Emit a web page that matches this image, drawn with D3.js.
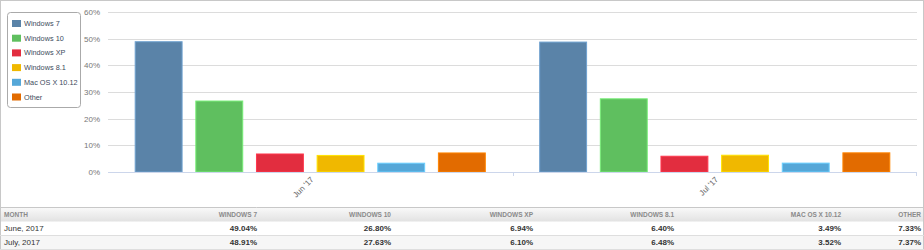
<!DOCTYPE html>
<html>
<head>
<meta charset="utf-8">
<script src="https://cdn.jsdelivr.net/npm/d3@7/dist/d3.min.js"></script>
<style>
  html, body { margin: 0; padding: 0; background: #fff; }
  svg { display: block; font-family: Arial, "Liberation Sans", sans-serif; }
</style>
</head>
<body>
<svg id="chart" width="924" height="250"></svg>
<script>
// Données
const months = ["Jun '17", "Jul '17"];
const monthNames = ["June, 2017", "July, 2017"];
const systems = ["Windows 7", "Windows 10", "Windows XP", "Windows 8.1", "Mac OS X 10.12", "Other"];
const colors = ["#5a83a8", "#5fbf5f", "#e22d3f", "#f0b800", "#55a7d8", "#e26b00"];
const june = [49.04, 26.80, 6.94, 6.40, 3.49, 7.33];
const july = [48.91, 27.63, 6.10, 6.48, 3.52, 7.37];
const yTicks = [0, 10, 20, 30, 40, 50, 60];

const series = [june, july];

const svg = d3.select("#chart");
const W = 924, H = 250;
const plot = { left: 108, right: 917, top: 12, bottom: 172 };

// Cadre extérieur
svg.append("rect")
  .attr("x", 0.5).attr("y", 0.5)
  .attr("width", W - 1).attr("height", H - 1)
  .attr("fill", "none").attr("stroke", "#c8c8c8");

const y = d3.scaleLinear().domain([0, 60]).range([plot.bottom, plot.top]);

const x0 = d3.scaleBand().domain(months).range([plot.left, plot.right]).padding(0);
const x1 = d3.scaleBand().domain(systems).range([0, x0.bandwidth()])
  .paddingInner(0.21).paddingOuter(0.44);

// Grille
svg.append("g")
  .selectAll("line")
  .data(yTicks.filter(d => d > 0))
  .join("line")
  .attr("x1", plot.left).attr("x2", plot.right)
  .attr("y1", d => Math.round(y(d)) + 0.5).attr("y2", d => Math.round(y(d)) + 0.5)
  .attr("stroke", "#dcdcdc");

// Axe Y
svg.append("g")
  .attr("transform", `translate(${plot.left - 5},0)`)
  .call(d3.axisLeft(y).tickValues(yTicks).tickSize(0).tickFormat(d => d + "%"))
  .call(g => g.select(".domain").remove())
  .selectAll("text")
  .attr("fill", "#777")
  .style("font-size", "8px")
  .style("font-family", "Arial, 'Liberation Sans', sans-serif");

// Barres
const groups = svg.append("g")
  .selectAll("g")
  .data(months)
  .join("g")
  .attr("transform", d => `translate(${x0(d)},0)`);

groups.selectAll("rect")
  .data((m, i) => series[i].map((v, j) => ({ sys: systems[j], value: v, color: colors[j] })))
  .join("rect")
  .attr("x", d => x1(d.sys) + 0.5)
  .attr("y", d => y(d.value) + 0.5)
  .attr("width", x1.bandwidth() - 1)
  .attr("height", d => y(0) - y(d.value) - 0.5)
  .attr("fill", d => d.color)
  .attr("stroke", d => d3.color(d.color).brighter(0.6))
  .attr("stroke-width", 1);

// Axe X
svg.append("line")
  .attr("x1", plot.left).attr("x2", plot.right)
  .attr("y1", plot.bottom + 0.5).attr("y2", plot.bottom + 0.5)
  .attr("stroke", "#ccd6eb");

svg.append("g")
  .selectAll("line")
  .data(months.slice(1))
  .join("line")
  .attr("x1", d => Math.round(x0(d)) + 0.5).attr("x2", d => Math.round(x0(d)) + 0.5)
  .attr("y1", plot.bottom).attr("y2", plot.bottom + 4)
  .attr("stroke", "#ccd6eb");

svg.append("line")
  .attr("x1", plot.right - 0.5).attr("x2", plot.right - 0.5)
  .attr("y1", plot.bottom).attr("y2", plot.bottom + 4)
  .attr("stroke", "#ccd6eb");

svg.append("g")
  .selectAll("text")
  .data(months)
  .join("text")
  .attr("transform", d => `translate(${x0(d) + x0.bandwidth() / 2 + 2},${plot.bottom + 6}) rotate(-45)`)
  .attr("text-anchor", "end")
  .attr("dy", "0.35em")
  .attr("fill", "#666")
  .style("font-size", "8px")
  .text(d => d);

// Légende
const legend = svg.append("g");
legend.append("rect")
  .attr("x", 7.5).attr("y", 12.5)
  .attr("width", 73).attr("height", 95)
  .attr("rx", 3)
  .attr("fill", "#fff")
  .attr("stroke", "#aaa");

const li = legend.selectAll("g")
  .data(systems)
  .join("g")
  .attr("transform", (d, i) => `translate(12,${20 + i * 14.7})`);

li.append("rect")
  .attr("width", 9).attr("height", 7)
  .attr("fill", (d, i) => colors[i]);

li.append("text")
  .attr("x", 12).attr("y", 3.5)
  .attr("dy", "0.35em")
  .attr("fill", "#3d4b5c")
  .style("font-size", "7.3px")
  .text(d => d);

// Tableau
const colRight = [257, 391, 533, 674, 841, 921];
const tTop = 207;
const headH = 14.5, rowH = 14;

const defs = svg.append("defs");
const grad = defs.append("linearGradient").attr("id", "hdr").attr("x1", 0).attr("x2", 0).attr("y1", 0).attr("y2", 1);
grad.append("stop").attr("offset", "0%").attr("stop-color", "#fafafa");
grad.append("stop").attr("offset", "100%").attr("stop-color", "#e2e2e2");

const table = svg.append("g");
table.append("rect")
  .attr("x", 1).attr("y", tTop)
  .attr("width", W - 2).attr("height", headH)
  .attr("fill", "url(#hdr)");
table.append("line")
  .attr("x1", 0).attr("x2", W)
  .attr("y1", tTop + 0.5).attr("y2", tTop + 0.5)
  .attr("stroke", "#c8c8c8");

table.append("rect")
  .attr("x", 1).attr("y", tTop + headH + rowH)
  .attr("width", W - 2).attr("height", rowH)
  .attr("fill", "#f6f6f6");

[tTop + headH + rowH, tTop + headH + 2 * rowH].forEach(yy => {
  table.append("line")
    .attr("x1", 0).attr("x2", W)
    .attr("y1", Math.round(yy) - 0.5).attr("y2", Math.round(yy) - 0.5)
    .attr("stroke", "#dedede");
});

table.append("text")
  .attr("x", 4).attr("y", tTop + headH / 2)
  .attr("dy", "0.35em")
  .attr("fill", "#8a8a8a")
  .style("font-size", "6.5px")
  .style("font-weight", "bold")
  .text("MONTH");

table.selectAll("text.hd")
  .data(systems)
  .join("text")
  .attr("class", "hd")
  .attr("x", (d, i) => colRight[i])
  .attr("y", tTop + headH / 2)
  .attr("dy", "0.35em")
  .attr("text-anchor", "end")
  .attr("fill", "#8a8a8a")
  .style("font-size", "6.5px")
  .style("font-weight", "bold")
  .text(d => d.toUpperCase());

const rows = table.selectAll("g.row")
  .data(series)
  .join("g")
  .attr("class", "row")
  .attr("transform", (d, i) => `translate(0,${tTop + headH + i * rowH + rowH / 2})`);

rows.append("text")
  .attr("x", 4)
  .attr("dy", "0.35em")
  .attr("fill", "#333")
  .style("font-size", "8px")
  .text((d, i) => monthNames[i]);

rows.selectAll("text.v")
  .data(d => d)
  .join("text")
  .attr("class", "v")
  .attr("x", (d, i) => colRight[i])
  .attr("dy", "0.35em")
  .attr("text-anchor", "end")
  .attr("fill", "#333")
  .style("font-size", "8px")
  .style("font-weight", "bold")
  .text(d => d.toFixed(2) + "%");
</script>
</body>
</html>
